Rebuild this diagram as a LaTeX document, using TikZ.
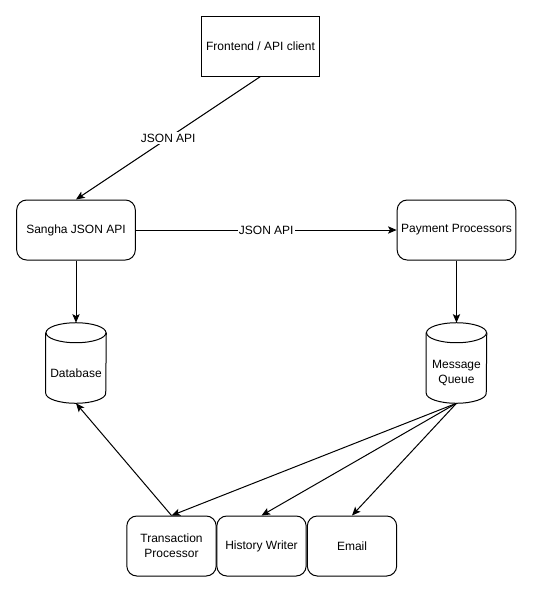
\documentclass[tikz,border=0pt]{standalone}
\usepackage{fontspec}
\setmainfont{Liberation Sans}
\usetikzlibrary{arrows.meta,calc}

\begin{document}
\begin{tikzpicture}[x=0.75pt,y=-0.75pt,
  every node/.style={font=\fontsize{9}{11}\selectfont, align=center, inner sep=0pt},
  plainbox/.style={draw, line width=0.75pt, minimum width=89pt, minimum height=45pt},
  roundbox/.style={plainbox, rounded corners=7.5pt},
  smallbox/.style={roundbox, minimum width=67pt},
  store/.style={minimum width=45pt, minimum height=60pt},
  link/.style={draw, line width=0.75pt, -{Stealth[length=6.5pt,width=5.5pt,inset=1.5pt]}},
  tag/.style={fill=white, inner sep=1pt}]

  \useasboundingbox (0,0) rectangle (533,593);

  % service boxes
  \node[plainbox] (front) at (260.5,46) {Frontend / API client};
  \node[roundbox] (sangha) at (76,230) {Sangha JSON API};
  \node[roundbox] (pay) at (456.5,230) {Payment Processors};
  \node[smallbox] (tp) at (171.5,546) {Transaction\\Processor};
  \node[smallbox] (hw) at (261.5,546) {History Writer};
  \node[smallbox] (em) at (352,546) {Email};

  % data stores
  \node[store] (db) at (76,363) {};
  \node[store] (mq) at (456.5,363) {};
  \foreach \s in {db,mq} {
    \draw[line width=0.75pt]
      ($(\s.north)+(0,10)$) ellipse [x radius=22.5pt, y radius=7.5pt];
    \draw[line width=0.75pt]
      ($(\s.north west)+(0,10)$) -- ($(\s.south west)+(0,-10)$)
      arc[start angle=180, end angle=360, x radius=22.5pt, y radius=7.5pt]
      -- ($(\s.north east)+(0,10)$);
  }
  \node at ($(db.center)+(0,10)$) {Database};
  \node at ($(mq.center)+(0,10)$) {Message\\Queue};

  % connectors
  \draw[link] (front.south) -- node[tag, pos=0.5] {JSON API} (sangha.north);
  \draw[link] (sangha.east) -- node[tag, pos=0.5] {JSON API} (pay.west);
  \draw[link] (sangha.south) -- (db.north);
  \draw[link] (pay.south) -- (mq.north);
  \draw[link] (mq.south) -- (tp.north);
  \draw[link] (mq.south) -- (hw.north);
  \draw[link] (mq.south) -- (em.north);
  \draw[link] (tp.north) -- (db.south);
\end{tikzpicture}
\end{document}
